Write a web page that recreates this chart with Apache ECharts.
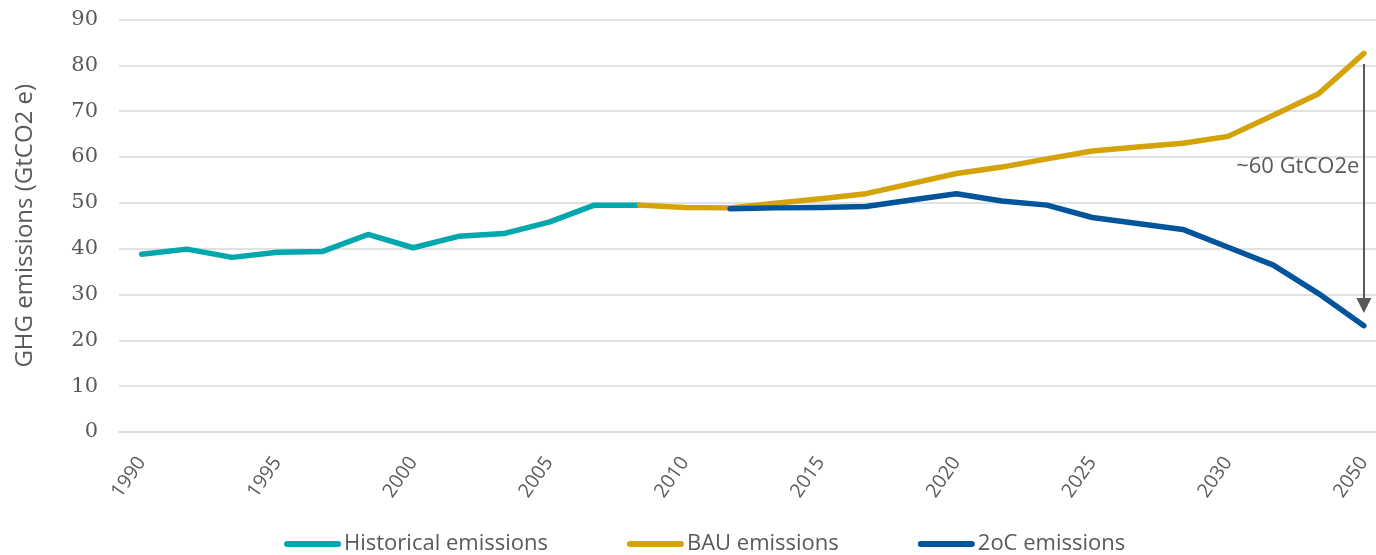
<!DOCTYPE html>
<html>
<head>
<meta charset="utf-8">
<title>GHG emissions pathways</title>
<script src="https://cdn.jsdelivr.net/npm/echarts@6/dist/echarts.min.js"></script>
<style>
  html, body { margin: 0; padding: 0; background: #ffffff; }
  #chart { width: 1376px; height: 555px; }
</style>
</head>
<body>
<div id="chart"></div>
<script>
// Axis tick labels: one label every third step along the horizontal axis
const tickLabels = ['1990', '1995', '2000', '2005', '2010', '2015', '2020', '2025', '2030', '2050'];
const stepsPerLabel = 3;

// Emissions, GtCO2e, one value per step (null where a series has no data)
const historical = [38.8, 39.9, 38.1, 39.2, 39.4, 43.1, 40.2, 42.7, 43.3, 45.8, 49.5, 49.5];
const bau = [49.5, 49.0, 48.9, 49.9, 50.9, 52.0, 54.2, 56.4, 57.8, 59.6, 61.3, 62.2, 63.0, 64.5, 69.1, 73.8, 82.6];
const twoDegree = [48.7, 48.9, 49.0, 49.2, 50.6, 52.0, 50.4, 49.5, 46.8, 45.5, 44.2, 40.3, 36.4, 30.2, 23.2];
const bauStart = 11;
const twoDegreeStart = 13;

// Gap between the two pathways in the final year
const gapTop = 80.3;
const gapBottom = 27.6;
const gapLabel = '~60 GtCO2e';
const gapLabelValue = 57.8;

// Build the category axis from the tick labels
const categories = [];
tickLabels.forEach((t, i) => {
  categories.push(t);
  if (i < tickLabels.length - 1) {
    for (let k = 1; k < stepsPerLabel; k++) categories.push('');
  }
});
const n = categories.length;

function place(values, start) {
  const out = new Array(n).fill(null);
  values.forEach((v, i) => { out[start + i] = v; });
  return out;
}

const textColor = '#595959';
const sans = '"Open Sans", "Noto Sans", sans-serif';

const chart = echarts.init(document.getElementById('chart'), null, { renderer: 'canvas' });

chart.setOption({
  animation: false,
  backgroundColor: '#ffffff',
  grid: {
    left: 119,
    top: 19.5,
    width: 1267.5,
    height: 412.5,
    containLabel: false,
    outerBoundsMode: 'none'
  },
  legend: {
    left: 279,
    top: 528,
    itemWidth: 57,
    itemHeight: 6,
    itemGap: 79,
    icon: 'path://M3,0H54A3,3,0,0,1,54,6H3A3,3,0,0,1,3,0Z',
    textStyle: { color: textColor, fontFamily: sans, fontSize: 22, padding: [0, 0, 0, -2] },
    data: ['Historical emissions', 'BAU emissions', '2oC emissions']
  },
  xAxis: {
    type: 'category',
    data: categories,
    boundaryGap: true,
    axisLine: { show: true, lineStyle: { color: '#d9d9d9', width: 1.5 } },
    axisTick: { show: false },
    axisLabel: {
      interval: 0,
      rotate: 55,
      margin: 27,
      color: textColor,
      fontFamily: sans,
      fontSize: 19.5
    },
    splitLine: { show: false }
  },
  yAxis: {
    type: 'value',
    min: 0,
    max: 90,
    interval: 10,
    name: 'GHG emissions (GtCO2 e)',
    nameLocation: 'middle',
    nameGap: 82,
    nameTextStyle: { color: textColor, fontFamily: sans, fontSize: 24 },
    axisLine: { show: false },
    axisTick: { show: false },
    axisLabel: { color: textColor, fontFamily: '"DejaVu Serif", serif', fontSize: 21, margin: 21 },
    splitLine: { lineStyle: { color: '#d9d9d9', width: 1.5 } }
  },
  series: [
    {
      name: 'Historical emissions',
      type: 'line',
      data: place(historical, 0),
      symbol: 'none',
      color: '#00a8ad',
      lineStyle: { width: 5.5, cap: 'round', join: 'round' }
    },
    {
      name: 'BAU emissions',
      type: 'line',
      data: place(bau, bauStart),
      symbol: 'none',
      color: '#d3a307',
      lineStyle: { width: 5.5, cap: 'round', join: 'round' }
    },
    {
      name: '2oC emissions',
      type: 'line',
      data: place(twoDegree, twoDegreeStart),
      symbol: 'none',
      color: '#02559a',
      lineStyle: { width: 5.5, cap: 'round', join: 'round' },
      markLine: {
        silent: true,
        symbol: ['none', 'triangle'],
        symbolSize: [15, 15],
        lineStyle: { color: '#595959', width: 2, type: 'solid' },
        label: { show: false },
        data: [[{ coord: [n - 1, gapTop] }, { coord: [n - 1, gapBottom] }]]
      },
      markPoint: {
        silent: true,
        symbol: 'rect',
        symbolSize: 1,
        itemStyle: { color: 'rgba(0,0,0,0)' },
        label: {
          show: true,
          position: 'left',
          distance: 4,
          color: textColor,
          fontFamily: sans,
          fontSize: 22,
          formatter: gapLabel
        },
        data: [{ coord: [n - 1, gapLabelValue] }]
      }
    }
  ]
});
</script>
</body>
</html>
